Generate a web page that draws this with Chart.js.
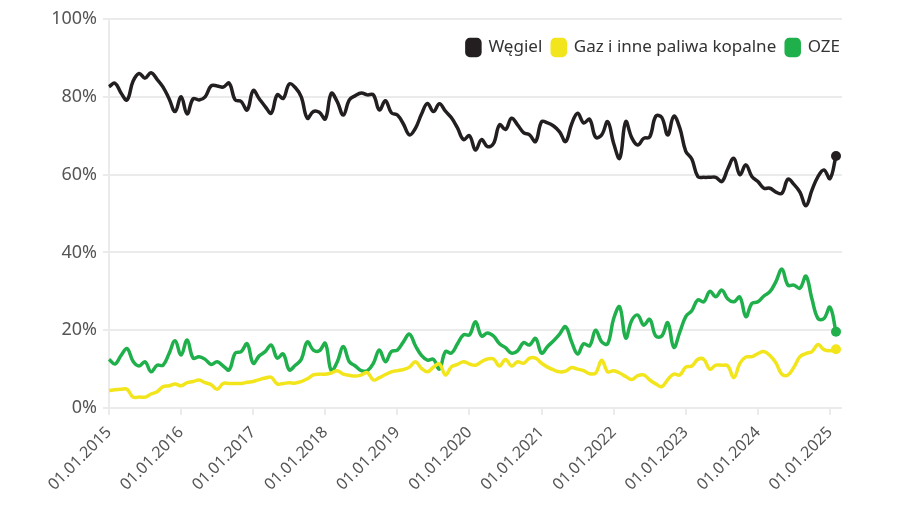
<!DOCTYPE html>
<html>
<head>
<meta charset="utf-8">
<script src="https://cdn.jsdelivr.net/npm/chart.js@4"></script>
<style>
  body { margin: 0; background: #fff; }
  #wrap { width: 898px; height: 523px; }
</style>
</head>
<body>
<div id="wrap"><canvas id="myChart" width="898" height="523"></canvas></div>
<script>
// monthly shares, Jan 2015 - Feb 2025 (%)
var wegiel = [
  82.6, 83.5, 81, 79.2, 84, 86, 84.8, 86.2, 84.5, 82.5, 79.5, 76.2,
  80, 75.6, 79.5, 79.2, 80, 82.8, 82.8, 82.5, 83.5, 79.2, 78.8, 76.6,
  81.6, 79.5, 77.5, 75.8, 80.5, 79.6, 83.3, 82.4, 80, 74.5, 76.2, 76,
  74.3, 80.9, 78.7, 75.3, 79.2, 80.3, 81, 80.5, 80.5, 76.6, 79, 75.9,
  75.3, 73, 70.2, 71.9, 75.5, 78.3, 76.2, 78.2, 76.3, 74.6, 72, 69,
  70, 66.3, 69, 67.2, 68, 72.8, 71.6, 74.5, 72.8, 70.8, 70.2, 68.5,
  73.6, 73.3, 72.5, 71, 68.5, 73, 75.8, 73.3, 74.2, 69.6, 70.2, 73.6,
  68, 64.2, 73.6, 69.5, 67.6, 69.3, 69.7, 75, 74.7, 70.2, 75, 72,
  66, 64, 59.5, 59.3, 59.3, 59.3, 58.2, 61.5, 64.2, 60, 62.5, 59.5,
  58.2, 56.5, 56.5, 55.5, 55.2, 58.8, 57.5, 55.5, 52, 56, 59.5, 61.2,
  59, 64.8
];
var gaz = [
  4.5, 4.7, 4.8, 4.8, 2.8, 2.8, 2.8, 3.6, 4.2, 5.5, 5.7, 6.2,
  5.7, 6.5, 6.8, 7.2, 6.5, 6, 4.8, 6.3, 6.3, 6.3, 6.3, 6.6,
  6.8, 7.3, 7.7, 7.9, 6.2, 6.3, 6.5, 6.4, 6.8, 7.5, 8.5, 8.7,
  8.7, 9, 9.6, 8.7, 8.4, 8.2, 8.5, 9.1, 7.2, 7.8, 8.6, 9.3,
  9.6, 9.9, 10.5, 11.9, 10.2, 9.3, 10.5, 11.3, 8.5, 10.6, 11.2, 11.9,
  11.3, 11, 11.9, 12.6, 12.6, 10.8, 12.5, 10.8, 11.9, 11.5, 12.8, 12.8,
  11.5, 10.5, 9.8, 9.3, 9.5, 10.4, 10, 9.6, 8.8, 9, 12.3, 9.3,
  9.6, 9, 8.1, 7.3, 8.3, 8.5, 7.2, 6.2, 5.5, 7.3, 8.7, 8.5,
  10.5, 10.8, 12.5, 12.5, 10, 11, 11, 10.8, 7.8, 11.5, 13.1, 13.2,
  14, 14.5, 13.5, 11.6, 8.7, 8.5, 10.5, 13.2, 14, 14.5, 16.3, 15,
  14.7, 15.1
];
var oze = [
  12.5, 11.3, 13.5, 15.3, 12, 10.8, 11.9, 9.3, 11, 11, 14, 17.3,
  13.6, 17.5, 12.8, 13.2, 12.5, 11.2, 11.9, 10.8, 9.8, 14.1, 14.5, 16.5,
  11.5, 13.4, 14.5, 16.2, 12.8, 13.9, 9.8, 11, 12.5, 17, 14.9, 14.7,
  16.6, 9.6, 11.9, 15.8, 11.9, 10.8, 9.6, 9.6, 11.5, 14.9, 11.9, 14.5,
  14.9, 17, 19, 16, 13.5, 12.3, 12.5, 10, 14.5, 14.1, 16.5, 18.8,
  18.8, 22.2, 18.5, 19.3, 18.5, 16.5, 15.5, 14.1, 14.7, 16.8, 16.2, 17.9,
  14.1, 15.8, 17.3, 19, 20.9, 17, 13.9, 16.5, 16, 20, 17, 16.5,
  23, 26, 18, 22.5, 23.9, 21.3, 22.8, 18.5, 18.5, 21.9, 15.6, 19.5,
  23.5, 25, 27.8, 27.3, 30, 28.6, 30.3, 28, 27.3, 28.5, 23.5, 26.9,
  27.3, 28.8, 29.9, 32.5, 35.7, 31.6, 31.6, 30.8, 33.9, 28, 23, 23,
  25.9, 19.6
];

// month labels 01.MM.YYYY from Jan 2015 (one extra month keeps the right margin)
var labels = [];
for (var i = 0; i < 123; i++) {
  var m = (i % 12) + 1;
  var y = 2015 + Math.floor(i / 12);
  labels.push("01." + (m < 10 ? "0" + m : m) + "." + y);
}

var FONT = "'Noto Sans', sans-serif";
var TEXT = "#555555";
var GRID = "#ebebeb";

function lastDot(ctx) {
  return ctx.dataIndex === ctx.dataset.data.length - 1 ? 5 : 0;
}

// legend takes no room in the layout and sits inside the plot, top right
var floatLegend = {
  id: "floatLegend",
  beforeLayout: function (chart) {
    var lg = chart.legend;
    if (lg && !lg._floated) {
      var fit = lg.fit;
      lg.fit = function () {
        fit.call(this);
        this.height = 0;
      };
      lg._floated = true;
    }
  },
  afterLayout: function (chart) {
    if (chart.legend) {
      chart.legend.top = 29;
      chart.legend.bottom = 69;
      chart.legend.right += 8;
    }
  }
};

var ctx = document.getElementById("myChart").getContext("2d");
var myChart = new Chart(ctx, {
  type: "line",
  data: {
    labels: labels,
    datasets: [
      {
        label: "Węgiel",
        data: wegiel,
        borderColor: "#231f20",
        backgroundColor: "#231f20",
        borderWidth: 3.5,
        tension: 0.4,
        pointRadius: lastDot,
        pointHoverRadius: lastDot,
        pointBorderWidth: 0
      },
      {
        label: "Gaz i inne paliwa kopalne",
        data: gaz,
        borderColor: "#f2e51c",
        backgroundColor: "#f2e51c",
        borderWidth: 3.5,
        tension: 0.4,
        pointRadius: lastDot,
        pointHoverRadius: lastDot,
        pointBorderWidth: 0
      },
      {
        label: "OZE",
        data: oze,
        borderColor: "#1fb04b",
        backgroundColor: "#1fb04b",
        borderWidth: 3.5,
        tension: 0.4,
        pointRadius: lastDot,
        pointHoverRadius: lastDot,
        pointBorderWidth: 0
      }
    ]
  },
  options: {
    responsive: false,
    animation: false,
    layout: { padding: { top: 19, right: 56, left: 0, bottom: 0 } },
    plugins: {
      tooltip: { enabled: false },
      legend: {
        position: "top",
        align: "end",
        labels: {
          color: "#333333",
          font: { family: FONT, size: 17 },
          boxWidth: 13,
          boxHeight: 16,
          useBorderRadius: true,
          borderRadius: 3,
          padding: 10
        }
      }
    },
    scales: {
      x: {
        afterFit: function (scale) { scale.height = 115; },
        grid: {
          color: GRID,
          lineWidth: 2,
          drawOnChartArea: false,
          tickLength: 7
        },
        border: { display: false },
        ticks: {
          autoSkip: false,
          maxRotation: 45,
          minRotation: 45,
          color: TEXT,
          font: { family: FONT, size: 16 },
          padding: 8,
          callback: function (val, idx) {
            var l = labels[idx];
            return l.indexOf("01.01.") === 0 ? l : null;
          }
        }
      },
      y: {
        min: 0,
        max: 100,
        afterFit: function (scale) { scale.width = 109; },
        grid: { color: GRID, lineWidth: 2, tickLength: 6 },
        border: { color: GRID, width: 2 },
        ticks: {
          stepSize: 20,
          color: TEXT,
          padding: 6,
          font: { family: FONT, size: 18 },
          callback: function (v) { return v + "%"; }
        }
      }
    }
  },
  plugins: [floatLegend]
});
</script>
</body>
</html>
